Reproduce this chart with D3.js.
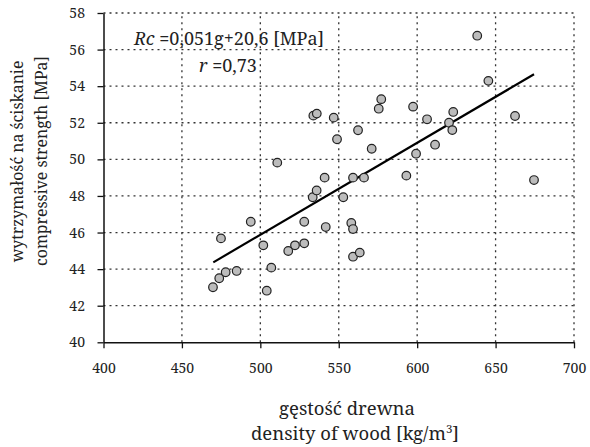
<!DOCTYPE html>
<html>
<head>
<meta charset="utf-8">
<script src="https://cdn.jsdelivr.net/npm/d3@7"></script>
<style>
  body { margin: 0; background: #fff; }
</style>
</head>
<body>
<div id="chart"></div>
<script>
// density of wood [kg/m3]
const density = [
  469.8, 473.8, 474.9, 477.9, 484.9, 493.9, 501.9, 504.1, 507.0, 510.8,
  517.8, 522.1, 528.0, 528.0, 533.4, 533.8, 535.9, 536.0, 541.0, 541.7,
  546.8, 548.9, 552.9, 558.0, 559.1, 559.1, 559.1, 562.3, 563.4, 566.1,
  571.0, 575.5, 577.1, 593.1, 597.4, 599.3, 606.3, 611.4, 620.3, 622.4,
  623.0, 638.3, 645.4, 662.4, 674.5
];
// compressive strength [MPa]
const strength = [
  43.01, 43.50, 45.68, 43.83, 43.90, 46.59, 45.30, 42.82, 44.08, 49.82,
  44.99, 45.30, 45.41, 46.59, 47.93, 52.39, 48.30, 52.50, 49.00, 46.30,
  52.28, 51.10, 47.93, 46.52, 46.19, 44.68, 49.00, 51.59, 44.90, 49.00,
  50.58, 52.77, 53.29, 49.11, 52.88, 50.31, 52.19, 50.80, 52.00, 51.60,
  52.59, 56.76, 54.29, 52.37, 48.87
];
// fitted line end points
const fitX = [470, 674.5];
const fitY = [44.37, 54.65];

const xTicks = [400, 450, 500, 550, 600, 650, 700];
const yTicks = [40, 42, 44, 46, 48, 50, 52, 54, 56, 58];

const FONT = "'Noto Serif', 'Liberation Serif', serif";
const width = 590, height = 447;
const margin = { left: 103.5, right: 16, top: 13, bottom: 104.7 };

const svg = d3.select('#chart').append('svg')
  .attr('width', width)
  .attr('height', height)
  .attr('font-family', FONT);

const x = d3.scaleLinear().domain([400, 700]).range([margin.left, width - margin.right]);
const y = d3.scaleLinear().domain([40, 58]).range([height - margin.bottom, margin.top]);

const gridColor = '#333';

// horizontal dotted grid
svg.append('g')
  .selectAll('line')
  .data(yTicks.slice(1))
  .join('line')
  .attr('x1', x(400)).attr('x2', x(700))
  .attr('y1', d => y(d)).attr('y2', d => y(d))
  .attr('stroke', gridColor)
  .attr('stroke-width', 1.3)
  .attr('stroke-dasharray', '2,4');

// vertical dotted grid
svg.append('g')
  .selectAll('line')
  .data(xTicks.slice(1))
  .join('line')
  .attr('x1', d => x(d)).attr('x2', d => x(d))
  .attr('y1', y(40)).attr('y2', y(58))
  .attr('stroke', gridColor)
  .attr('stroke-width', 1.3)
  .attr('stroke-dasharray', '2,4');

// axes
const xAxis = d3.axisBottom(x).tickValues(xTicks).tickSize(6).tickPadding(15).tickSizeOuter(0);
const yAxis = d3.axisLeft(y).tickValues(yTicks).tickSize(6).tickPadding(12.5).tickSizeOuter(0);

svg.append('g')
  .attr('transform', `translate(0,${y(40)})`)
  .call(xAxis)
  .attr('font-family', FONT)
  .attr('font-size', 14)
  .call(g => g.select('.domain').attr('stroke', '#111').attr('stroke-width', 1.5))
  .call(g => g.selectAll('.tick line').attr('stroke', '#111').attr('stroke-width', 1.3))
  .call(g => g.selectAll('text').attr('fill', '#222'));

svg.append('g')
  .attr('transform', `translate(${x(400)},0)`)
  .call(yAxis)
  .attr('font-family', FONT)
  .attr('font-size', 14)
  .call(g => g.select('.domain').attr('stroke', '#111').attr('stroke-width', 1.5))
  .call(g => g.selectAll('.tick line').attr('stroke', '#111').attr('stroke-width', 1.3))
  .call(g => g.selectAll('text').attr('fill', '#222'));

// regression line
svg.append('line')
  .attr('x1', x(fitX[0])).attr('y1', y(fitY[0]))
  .attr('x2', x(fitX[1])).attr('y2', y(fitY[1]))
  .attr('stroke', '#000')
  .attr('stroke-width', 2.2);

// points
svg.append('g')
  .selectAll('circle')
  .data(density.map((d, i) => [d, strength[i]]))
  .join('circle')
  .attr('cx', d => x(d[0]))
  .attr('cy', d => y(d[1]))
  .attr('r', 4.3)
  .attr('fill', '#bcbcbc')
  .attr('stroke', '#222')
  .attr('stroke-width', 1.2);

// equation
const eq = svg.append('text')
  .attr('x', 229)
  .attr('y', 45)
  .attr('text-anchor', 'middle')
  .attr('font-size', 18)
  .attr('fill', '#222');
eq.append('tspan').attr('font-style', 'italic').text('Rc');
eq.append('tspan').text(' =0,051g+20,6 [MPa]');

const rt = svg.append('text')
  .attr('x', 228)
  .attr('y', 71.5)
  .attr('text-anchor', 'middle')
  .attr('font-size', 18)
  .attr('fill', '#222');
rt.append('tspan').attr('font-style', 'italic').text('r');
rt.append('tspan').text(' =0,73');

// x title
svg.append('text')
  .attr('x', 347)
  .attr('y', 415)
  .attr('text-anchor', 'middle')
  .attr('font-size', 18.5)
  .attr('fill', '#222')
  .text('gęstość drewna');

const xt2 = svg.append('text')
  .attr('x', 355)
  .attr('y', 440)
  .attr('text-anchor', 'middle')
  .attr('font-size', 18.5)
  .attr('fill', '#222');
xt2.append('tspan').text('density of wood [kg/m');
xt2.append('tspan').attr('font-size', 11.5).attr('dy', -7).text('3');
xt2.append('tspan').attr('dy', 7).text(']');

// y title
svg.append('text')
  .attr('transform', 'translate(22.5,161.5) rotate(-90)')
  .attr('text-anchor', 'middle')
  .attr('font-size', 15.8)
  .attr('fill', '#222')
  .text('wytrzymałość na ściskanie');

svg.append('text')
  .attr('transform', 'translate(46.5,161) rotate(-90)')
  .attr('text-anchor', 'middle')
  .attr('font-size', 15.8)
  .attr('fill', '#222')
  .text('compressive strength [MPa]');
</script>
</body>
</html>
